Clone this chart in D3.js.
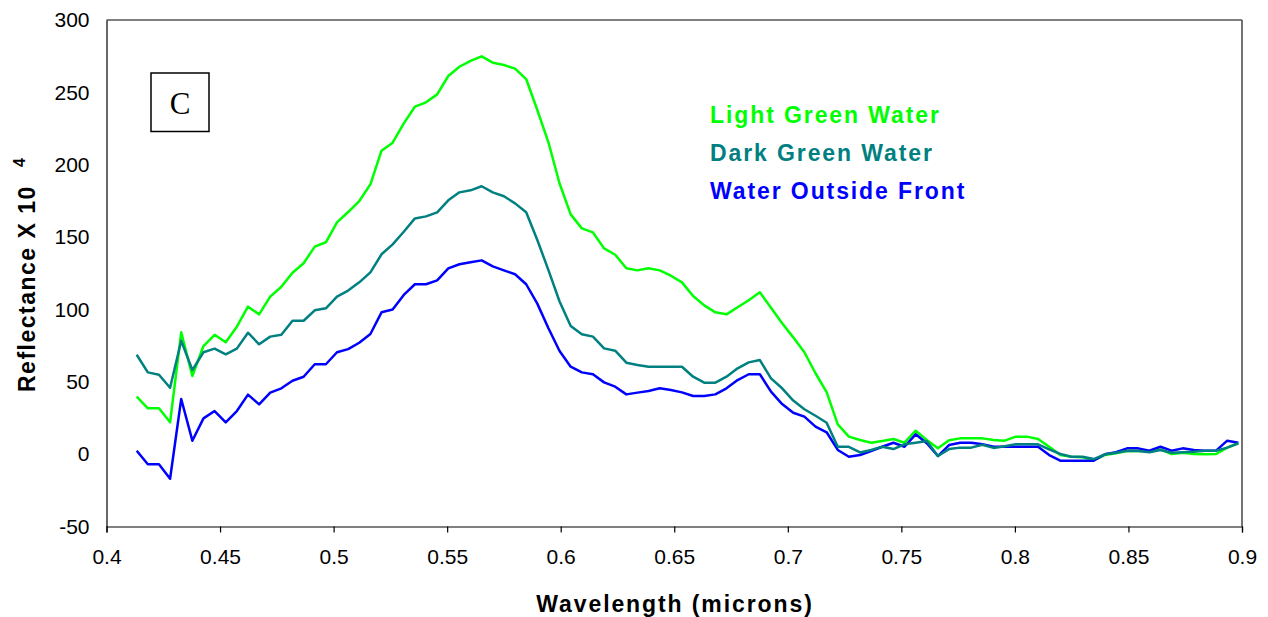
<!DOCTYPE html>
<html>
<head>
<meta charset="utf-8">
<script src="https://cdn.jsdelivr.net/npm/d3@7"></script>
<style>
  body { margin: 0; background: #fff; }
  svg { display: block; font-family: "Liberation Sans", Arial, sans-serif; }
</style>
</head>
<body>
<div id="chart"></div>
<script>
// wavelengths (microns) of the bands
var wavelengths = [
  0.4133, 0.4182, 0.4231, 0.4280, 0.4329, 0.4378, 0.4427, 0.4476, 0.4525, 0.4574,
  0.4623, 0.4672, 0.4721, 0.4770, 0.4819, 0.4868, 0.4917, 0.4966, 0.5015, 0.5064,
  0.5113, 0.5162, 0.5211, 0.5260, 0.5309, 0.5358, 0.5407, 0.5456, 0.5505, 0.5554,
  0.5603, 0.5652, 0.5701, 0.5750, 0.5799, 0.5848, 0.5897, 0.5946, 0.5995, 0.6044,
  0.6093, 0.6142, 0.6191, 0.6240, 0.6289, 0.6338, 0.6387, 0.6436, 0.6485, 0.6534,
  0.6583, 0.6632, 0.6681, 0.6730, 0.6779, 0.6828, 0.6877, 0.6926, 0.6975, 0.7024,
  0.7073, 0.7122, 0.7171, 0.7220, 0.7269, 0.7318, 0.7367, 0.7416, 0.7465, 0.7514,
  0.7563, 0.7612, 0.7661, 0.7710, 0.7759, 0.7808, 0.7857, 0.7906, 0.7955, 0.8004,
  0.8053, 0.8102, 0.8151, 0.8200, 0.8249, 0.8298, 0.8347, 0.8396, 0.8445, 0.8494,
  0.8543, 0.8592, 0.8641, 0.8690, 0.8739, 0.8788, 0.8837, 0.8886, 0.8935, 0.8984
];

var lightGreen = [
  39.7, 31.7, 31.7, 22, 84.2, 54, 74.7, 82.5, 77.3, 88.1,
  101.9, 96.6, 108.8, 115.7, 125.4, 131.9, 143.4, 146.4, 160.2, 167.3,
  174.9, 186.4, 209.7, 215.2, 228.6, 240.1, 243.1, 248.6, 261.3, 267.7,
  271.7, 274.9, 270.5, 268.9, 266.4, 259.2, 237.8, 215.5, 187, 165.7,
  156, 153.2, 142.2, 137.8, 128.4, 127, 128.4, 127, 123.3, 118.7,
  109.3, 102.8, 98, 96.6, 101.5, 106.3, 111.8, 101.2, 90.4, 80.7,
  70.4, 55.9, 42.8, 20.6, 12.1, 9.8, 7.9, 9.1, 10.5, 7.9,
  16.2, 9.8, 4, 9.6, 10.9, 10.9, 10.9, 9.8, 9.3, 12.1,
  12.1, 10.5, 5.1, -0.6, -1.8, -2.2, -4.1, -0.6, 0.6, 2.2,
  2.4, 1.7, 3.3, 0.1, 1, 0.1, 0, 0.1, 4.5, 7.5
];

var darkGreen = [
  68.7, 56.5, 54.9, 45.9, 78.4, 58.1, 70.4, 72.9, 69, 72.9,
  83.9, 75.9, 81.2, 82.5, 92.2, 92.2, 99.4, 100.8, 108.8, 113,
  118.7, 125.6, 138.1, 145, 153.7, 162.9, 164.3, 167.1, 175.4, 180.9,
  182.3, 185.1, 180.9, 178.2, 173.3, 167.1, 148, 127.2, 105.5, 88.5,
  82.8, 81.2, 73.1, 71.5, 63.2, 61.6, 60.4, 60.4, 60.4, 60.4,
  53.5, 49.4, 49.4, 53.5, 59.3, 63.4, 65, 52.4, 45.5, 37,
  31, 26.5, 21.7, 5.1, 5.1, 1.2, 2.9, 5.1, 3.5, 6.8,
  7.9, 9.1, -1.3, 3.5, 4.5, 4.5, 6.5, 4.3, 5.4, 6.8,
  6.8, 6.8, 3.3, 0.1, -1.8, -1.8, -3.4, -0.1, 1, 2.4,
  2.2, 1.3, 2.9, 1, 1.3, 1.7, 2.4, 2.4, 4.5, 7.5
];

var outsideFront = [
  2.4, -7, -7, -17, 38.1, 9.3, 24.7, 29.8, 22, 29.8,
  41.1, 34.4, 42.5, 45.5, 50.7, 53.5, 62.1, 62.1, 70.4, 72.6,
  77, 83, 98, 100, 110, 117.4, 117.4, 120.1, 128.4, 131.2,
  132.6, 133.9, 129.8, 127, 124.3, 117.4, 104, 87, 71.3, 60.4,
  56.5, 55.2, 49.6, 46.6, 41.3, 42.5, 43.6, 45.5, 44.3, 42.7,
  40.2, 40.2, 41.3, 45.5, 51.2, 55.2, 55.2, 43.2, 34.6, 28.6,
  25.9, 19, 15.1, 2.9, -1.8, -0.6, 2.2, 5.1, 7.9, 5.1,
  13.7, 7.5, -1.3, 6.3, 7.9, 7.9, 6.8, 5.1, 5.1, 5.1,
  5.1, 5.1, -0.6, -4.5, -4.5, -4.5, -4.5, -0.1, 1.3, 4,
  4, 2.4, 5.1, 2.4, 4, 2.9, 2.4, 2.4, 9.3, 7.9
];

var seriesNames = ["Light Green Water", "Dark Green Water", "Water Outside Front"];
var seriesColors = ["#00ff00", "#008080", "#0000ff"];
var xTicks = [0.4, 0.45, 0.5, 0.55, 0.6, 0.65, 0.7, 0.75, 0.8, 0.85, 0.9];
var yTicks = [-50, 0, 50, 100, 150, 200, 250, 300];

var W = 1268, H = 617;
// plot area edges (note: "top" is reserved on window, so use plot* names)
var plotLeft = 106.5, plotRight = 1242, plotTop = 20, plotBottom = 526.5;

var svg = d3.select("#chart").append("svg")
  .attr("width", W)
  .attr("height", H);

var x = d3.scaleLinear().domain([0.4, 0.9]).range([plotLeft, plotRight]);
var y = d3.scaleLinear().domain([-50, 300]).range([plotBottom, plotTop]);

// frame top / right
svg.append("line")
  .attr("x1", plotLeft).attr("x2", plotRight).attr("y1", plotTop).attr("y2", plotTop)
  .attr("stroke", "#000").attr("stroke-width", 1.2);
svg.append("line")
  .attr("x1", plotRight).attr("x2", plotRight).attr("y1", plotTop).attr("y2", plotBottom)
  .attr("stroke", "#444").attr("stroke-width", 1.5);

svg.append("g")
  .attr("transform", "translate(0," + plotBottom + ")")
  .call(d3.axisBottom(x).tickValues(xTicks).tickSize(6).tickPadding(17)
    .tickFormat(function (d) { return String(+d.toFixed(2)); }))
  .call(function (g) {
    g.select(".domain").attr("stroke", "#000").attr("stroke-width", 1.2);
    g.selectAll(".tick line").attr("stroke", "#000").attr("stroke-width", 1.2);
    g.selectAll("text").attr("font-size", 21).attr("fill", "#000")
      .attr("font-family", "Liberation Sans, Arial, sans-serif");
  });

// plain hyphen for negatives, like the original
svg.append("g")
  .attr("transform", "translate(" + plotLeft + ",0)")
  .call(d3.axisLeft(y).tickValues(yTicks).tickSize(0).tickPadding(17)
    .tickFormat(function (d) { return String(d); }))
  .call(function (g) {
    g.select(".domain").attr("stroke", "#000").attr("stroke-width", 1.2);
    g.selectAll("text").attr("font-size", 21).attr("fill", "#000")
      .attr("font-family", "Liberation Sans, Arial, sans-serif");
  });

// lines
var line = d3.line()
  .x(function (d, i) { return x(wavelengths[i]); })
  .y(function (d) { return y(d); });

var drawOrder = [
  [lightGreen, seriesColors[0]],
  [outsideFront, seriesColors[2]],
  [darkGreen, seriesColors[1]]
];
drawOrder.forEach(function (s) {
  svg.append("path")
    .datum(s[0])
    .attr("fill", "none")
    .attr("stroke", s[1])
    .attr("stroke-width", 2.5)
    .attr("stroke-linejoin", "round")
    .attr("d", line);
});

// legend
seriesNames.forEach(function (name, i) {
  svg.append("text")
    .attr("x", 710)
    .attr("y", 122.5 + i * 38)
    .attr("font-size", 23)
    .attr("font-weight", "bold")
    .attr("letter-spacing", 1.9)
    .attr("fill", seriesColors[i])
    .text(name);
});

// panel label
svg.append("rect")
  .attr("x", 151).attr("y", 73).attr("width", 58).attr("height", 58.5)
  .attr("fill", "#fff").attr("stroke", "#000").attr("stroke-width", 1.5);
svg.append("text")
  .attr("x", 180).attr("y", 114)
  .attr("text-anchor", "middle")
  .attr("font-family", "Liberation Serif, Times New Roman, serif")
  .attr("font-size", 31)
  .text("C");

// axis titles
svg.append("text")
  .attr("x", 675)
  .attr("y", 611.5)
  .attr("text-anchor", "middle")
  .attr("font-size", 23)
  .attr("font-weight", "bold")
  .attr("letter-spacing", 1.9)
  .text("Wavelength (microns)");

svg.append("text")
  .attr("transform", "translate(35,392) rotate(-90)")
  .attr("font-size", 23)
  .attr("font-weight", "bold")
  .attr("letter-spacing", 1.5)
  .text("Reflectance X 10");
svg.append("text")
  .attr("transform", "translate(25,167) rotate(-90)")
  .attr("font-size", 16)
  .attr("font-weight", "bold")
  .text("4");
</script>
</body>
</html>
